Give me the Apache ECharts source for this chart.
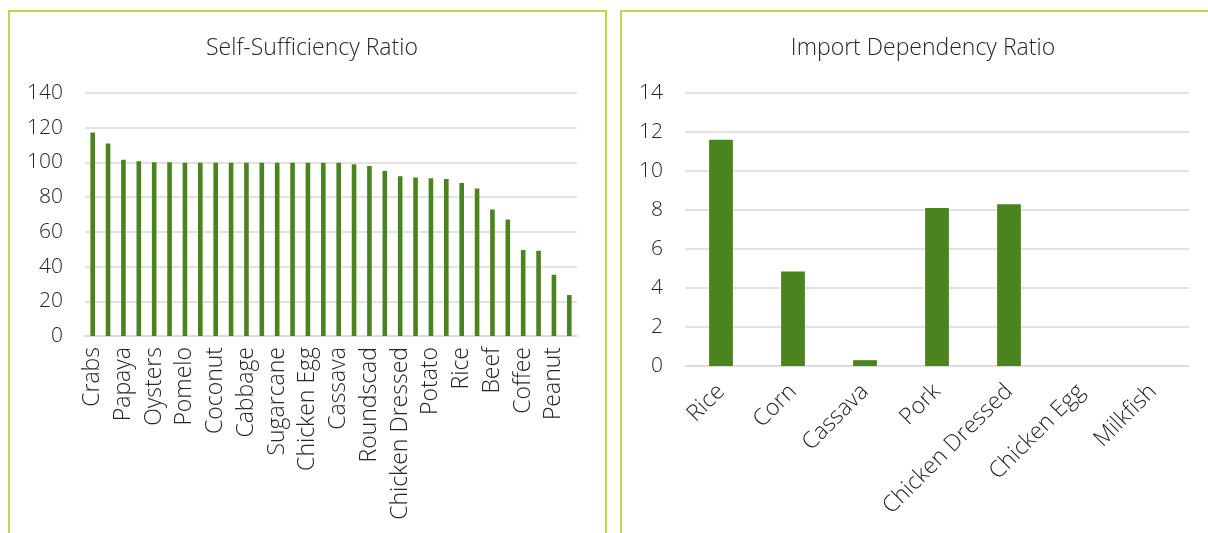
<!DOCTYPE html>
<html>
<head>
<meta charset="utf-8">
<script src="https://cdn.jsdelivr.net/npm/echarts@6/dist/echarts.min.js"></script>
<style>
  html, body { margin: 0; padding: 0; background: #fff; }
  #main { width: 1208px; height: 533px; }
</style>
</head>
<body>
<div id="main"></div>
<script>
// self-sufficiency ratio, 32 commodities (only every other name is printed on the axis)
const ssrCategories = [
    'Crabs', 'Banana', 'Papaya', 'Pineapple', 'Oysters', 'Calamansi', 'Pomelo', 'Mango',
    'Coconut', 'Sweet Potato', 'Cabbage', 'Eggplant', 'Sugarcane', 'Tilapia', 'Chicken Egg', 'Milkfish',
    'Cassava', 'Tomato', 'Roundscad', 'Carabao Meat', 'Chicken Dressed', 'Pork', 'Potato', 'Goat Meat',
    'Rice', 'Corn', 'Beef', 'Onion', 'Coffee', 'Garlic', 'Peanut', 'Mongo',
]
const ssrValues = [
    117.2, 110.9, 101.6, 100.7, 100.1, 100.1, 99.8, 99.8,
    99.8, 99.8, 99.8, 99.8, 99.8, 99.8, 99.8, 99.8,
    99.8, 99.0, 98.0, 95.1, 92.1, 91.3, 90.9, 90.5,
    88.2, 85.0, 72.9, 67.1, 49.5, 49.1, 35.3, 23.6,
]

// import dependency ratio
const idrCategories = ['Rice', 'Corn', 'Cassava', 'Pork', 'Chicken Dressed', 'Chicken Egg', 'Milkfish']
const idrValues = [11.6, 4.85, 0.3, 8.1, 8.3, 0, 0]

const barColor = '#4a831f'
const frameColor = '#c3d64a'
const textColor = '#262626'
const fontFamily = 'Open Sans'

const myChart = echarts.init(document.getElementById('main'))

const valueAxis = (max, interval, gridIndex) => ({
    type: 'value',
    gridIndex: gridIndex,
    min: 0,
    max: max,
    interval: interval,
    axisLine: { show: false },
    axisTick: { show: false },
    axisLabel: {
        color: textColor,
        fontFamily: fontFamily,
        fontWeight: 300,
        fontSize: 21,
        margin: 22,
    },
    splitLine: {
        lineStyle: { color: '#d9d9d9', width: 1.5 },
    },
})

const catLabel = (rotate, margin, interval) => ({
    interval: interval,
    rotate: rotate,
    margin: margin,
    color: textColor,
    fontFamily: fontFamily,
    fontWeight: 300,
    fontSize: 23,
})

const titleStyle = { color: textColor, fontFamily: fontFamily, fontWeight: 300, fontSize: 23 }

const option = {
    backgroundColor: '#fff',
    animation: false,
    title: [
        { text: 'Self-Sufficiency Ratio', left: 307, top: 32, textAlign: 'center', textStyle: titleStyle },
        { text: 'Import Dependency Ratio', left: 918, top: 32, textAlign: 'center', textStyle: titleStyle },
    ],
    graphic: [
        {
            type: 'rect',
            shape: { x: 9, y: 11, width: 597, height: 540 },
            style: { fill: 'none', stroke: frameColor, lineWidth: 2 },
            z: -1,
        },
        {
            type: 'rect',
            shape: { x: 621, y: 11, width: 600, height: 540 },
            style: { fill: 'none', stroke: frameColor, lineWidth: 2 },
            z: -1,
        },
    ],
    grid: [
        { left: 85, top: 93, width: 492, height: 243 },
        { left: 685, top: 93, width: 504, height: 273 },
    ],
    xAxis: [
        {
            type: 'category',
            gridIndex: 0,
            data: ssrCategories,
            axisLine: { lineStyle: { color: '#d9d9d9', width: 1.5 } },
            axisTick: { show: false },
            axisLabel: catLabel(90, 11, 1),
        },
        {
            type: 'category',
            gridIndex: 1,
            data: idrCategories,
            axisLine: { lineStyle: { color: '#d9d9d9', width: 1.5 } },
            axisTick: { show: false },
            axisLabel: catLabel(45, 22, 0),
        },
    ],
    yAxis: [valueAxis(140, 20, 0), valueAxis(14, 2, 1)],
    series: [
        {
            name: 'Self-Sufficiency Ratio',
            type: 'bar',
            xAxisIndex: 0,
            yAxisIndex: 0,
            data: ssrValues,
            barWidth: '30%',
            itemStyle: { color: barColor },
        },
        {
            name: 'Import Dependency Ratio',
            type: 'bar',
            xAxisIndex: 1,
            yAxisIndex: 1,
            data: idrValues,
            barWidth: '33%',
            itemStyle: { color: barColor },
        },
    ],
}
myChart.setOption(option)
</script>
</body>
</html>
